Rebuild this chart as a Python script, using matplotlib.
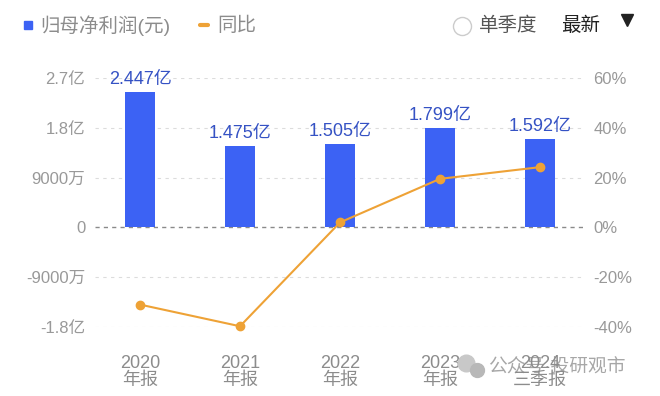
import numpy as np
import matplotlib.pyplot as plt
from matplotlib.lines import Line2D

plt.rcParams['font.family'] = ['Liberation Sans', 'Noto Sans CJK SC']

# --- data ---
periods = ['2020\n年报', '2021\n年报', '2022\n年报', '2023\n年报', '2024\n三季报']
profit_yi = [2.447, 1.475, 1.505, 1.799, 1.592]       # 亿元
yoy_pct = [-31.0, -39.7, 2.0, 19.5, 24.2]              # %
left_ticks = [-1.8, -0.9, 0, 0.9, 1.8, 2.7]
left_labels = ['-1.8亿', '-9000万', '0', '9000万', '1.8亿', '2.7亿']
right_ticks = [-40, -20, 0, 20, 40, 60]
right_labels = ['-40%', '-20%', '0%', '20%', '40%', '60%']

BAR_BLUE = '#3c62f4'
LABEL_BLUE = '#3552c4'
ORANGE = '#eea236'
GREY = '#999999'

W, H = 660, 396


def px(x, y):
    # pixel coords (top-left origin) -> figure fraction
    return x / W, 1 - y / H


fig = plt.figure(figsize=(6.6, 3.96), dpi=100, facecolor='white')
ax = fig.add_axes([95 / W, 1 - 327 / H, 490 / W, 249 / H])
ax2 = ax.twinx()

x = np.arange(len(periods))
ax.bar(x, profit_yi, width=0.3, color=BAR_BLUE, zorder=3)
for xi, v in zip(x, profit_yi):
    ax.text(xi, v + 0.07, f'{v:.3f}亿', ha='center', va='bottom',
            fontsize=13, color=LABEL_BLUE, zorder=5)

ax.set_xlim(-0.45, len(periods) - 0.55)
ax.set_ylim(-1.8, 2.7)
ax.set_yticks(left_ticks)
ax.set_yticklabels(left_labels)
ax.set_xticks(x)
ax.set_xticklabels(periods, linespacing=1.0)

for t in left_ticks:
    if t == 0:
        ax.axhline(0, color='#8a8a8a', lw=1.0, ls=(0, (3, 3)), zorder=2)
    else:
        ax.axhline(t, color='#dcdcdc', lw=0.8, ls=(0, (3, 4)), zorder=1)

ax2.plot(x, yoy_pct, color=ORANGE, lw=1.5, marker='o', ms=6,
         clip_on=False, zorder=4)
ax2.set_ylim(-40, 60)
ax2.set_yticks(right_ticks)
ax2.set_yticklabels(right_labels)

for a in (ax, ax2):
    for s in a.spines.values():
        s.set_visible(False)
    a.tick_params(length=0, colors=GREY, labelsize=12)
ax.tick_params(axis='y', pad=7)
ax2.tick_params(axis='y', pad=6)
ax.tick_params(axis='x', pad=20, labelsize=13, colors='#8c8c8c')
ax.patch.set_visible(False)
ax2.set_zorder(ax.get_zorder() + 1)
ax2.patch.set_visible(False)

# --- header legend ---
def fig_marker(xp, yp, **kw):
    fx, fy = px(xp, yp)
    fig.lines.append(Line2D([fx], [fy], transform=fig.transFigure, figure=fig, **kw))


fig_marker(28, 25, marker='s', ms=6, color=BAR_BLUE, ls='none')
fig.text(*px(40, 26), '归母净利润(元)', fontsize=14, color='#8c8c8c', va='center')
fx0, fy0 = px(200, 25)
fx1, _ = px(208, 25)
fig.lines.append(Line2D([fx0, fx1], [fy0, fy0], transform=fig.transFigure,
                        color=ORANGE, lw=3, solid_capstyle='round', figure=fig))
fig.text(*px(217, 26), '同比', fontsize=14, color='#8c8c8c', va='center')

fig_marker(462, 26, marker='o', ms=13, mfc='white', mec='#cccccc', mew=1, ls='none')
fig.text(*px(479, 26), '单季度', fontsize=14, color='#555555', va='center')
fig.text(*px(561, 26), '最新', fontsize=14, color='#222222', va='center')
fig_marker(627, 20, marker='v', ms=8, color='#222222', ls='none')

# watermark (wechat style icon + text)
fig_marker(466, 363, marker='o', ms=12, color='#c8c8c8', ls='none')
fig_marker(477, 370, marker='o', ms=10, color='#b8b8b8', ls='none')
fig.text(*px(488, 368), '公众号·投研观市', fontsize=13.5, color='#8a8a8a',
         alpha=0.75, va='center')

fig.savefig('out.png', dpi=100, facecolor='white')
